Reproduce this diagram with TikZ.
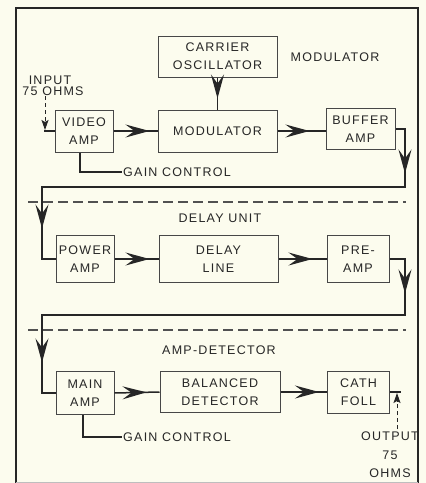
\documentclass[tikz,border=0pt]{standalone}
\usepackage{fontspec}
\newfontfamily\lbl[LetterSpace=10]{Liberation Sans}
\usetikzlibrary{arrows.meta,decorations.markings}
\definecolor{paper}{HTML}{FCFCEE}
\definecolor{ink}{HTML}{262626}
\begin{document}
\begin{tikzpicture}[x=1pt,y=-1pt,
  every node/.style={font=\lbl\fontsize{12.5}{18}\selectfont, text=ink},
  blk/.style={draw=ink!85, line width=1pt, align=center, inner sep=0pt},
  wire/.style={draw=ink, line width=1.5pt},
  sep/.style={draw=ink!80, line width=1.2pt, dash pattern=on 10pt off 5pt},
  bigtip/.tip={Stealth[length=24pt,width=13pt,inset=9pt]},
  smalltip/.tip={Stealth[length=10pt,width=7pt,inset=2pt]},
  am/.style={postaction={decorate,decoration={markings,mark=at position #1 with {\arrow{bigtip}}}}},
  lbltext/.style={inner sep=1pt}
]
\useasboundingbox[fill=paper] (0,0) rectangle (426,483);
% frame
\draw[ink, line width=2pt] (16,485) -- (16,8) -- (418,8) -- (418,485);
\draw[ink!30, line width=1pt] (16,482) -- (418,482);

% boxes
\node[blk, minimum width=119pt, minimum height=41pt] (carrier) at (217.5,56.5) {CARRIER\\OSCILLATOR};
\node[blk, minimum width=58pt, minimum height=42pt] (videoamp) at (84,131) {VIDEO\\AMP};
\node[blk, minimum width=119pt, minimum height=42pt] (modulator) at (217.5,131) {MODULATOR};
\node[blk, minimum width=69pt, minimum height=41pt] (buffer) at (360.5,129) {BUFFER\\AMP};

\node[blk, minimum width=58pt, minimum height=47pt] (power) at (85,259) {POWER\\AMP};
\node[blk, minimum width=119pt, minimum height=47pt] (delay) at (218.5,259) {DELAY\\LINE};
\node[blk, minimum width=62pt, minimum height=47pt] (preamp) at (358,259) {PRE-\\AMP};

\node[blk, minimum width=58pt, minimum height=43pt] (mainamp) at (85,393) {MAIN\\AMP};
\node[blk, minimum width=120pt, minimum height=41pt] (balanced) at (220,392) {BALANCED\\DETECTOR};
\node[blk, minimum width=62pt, minimum height=42pt] (cathfoll) at (358.5,392) {CATH\\FOLL};

% labels
\node (modlbl) at (335,57) {MODULATOR};
\node[lbltext] (inlbl1) at (50,80) {INPUT};
\node[lbltext] (inlbl2) at (53,91) {75 OHMS};
\node[lbltext, anchor=west] (gain1) at (122,172) {GAIN CONTROL};
\node (delaylbl) at (220,218) {DELAY UNIT};
\node (amplbl) at (219,350) {AMP-DETECTOR};
\node[lbltext, anchor=west] (gain2) at (122,437) {GAIN CONTROL};
\node[lbltext] (out1) at (390,436) {OUTPUT};
\node[lbltext] (out2) at (390,455) {75};
\node[lbltext] (out3) at (390,473) {OHMS};

% separators
\coordinate (s1a) at (28,202); \coordinate (s1b) at (406,202);
\coordinate (s2a) at (28,330); \coordinate (s2b) at (406,330);
\draw[sep] (s1a) -- (s1b);
\draw[sep] (s2a) -- (s2b);

% input
\coordinate (intop) at (45,96);
\coordinate (inbot) at (45,130);
\coordinate (injoin) at (44,131);
\draw[ink, line width=1pt, dash pattern=on 4pt off 3pt, -{smalltip}] (intop) -- (inbot);
\draw[wire] (injoin) -- (videoamp.west);

% modulator section
\draw[wire, am=-11pt] (carrier.south) -- (modulator.north);
\draw[wire, am=-8pt] (videoamp.east) -- (modulator.west);
\draw[wire, am=-16pt] (modulator.east) -- (modulator.east -| buffer.west);
\draw[wire] ([xshift=-4pt]videoamp.south) |- (gain1.west);
\coordinate (c1) at (405,187);
\coordinate (c2) at (42,187);
\draw[wire, am=54pt, am=472pt] (buffer.east) -| (c1) -- (c2) |- (power.west);

% delay section
\draw[wire, am=-9pt] (power.east) -- (delay.west);
\draw[wire, am=-14pt] (delay.east) -- (preamp.west);
\coordinate (c3) at (405,315);
\coordinate (c4) at (42,315);
\draw[wire, am=50pt, am=482pt] (preamp.east) -| (c3) -- (c4) |- (mainamp.west);

% amp-detector section
\draw[wire, am=-13pt] (mainamp.east) -- (balanced.west);
\draw[wire, am=-8pt] (balanced.east) -- (cathfoll.west);
\draw[wire] ([xshift=-2pt]mainamp.south) |- (gain2.west);
\coordinate (outend) at (401,392);
\draw[wire] (cathfoll.east) -- (outend);
\coordinate (outbot) at (397,429);
\coordinate (outtop) at (397,393);
\draw[ink, line width=1pt, dash pattern=on 4pt off 3pt, -{smalltip}] (outbot) -- (outtop);
\end{tikzpicture}
\end{document}
